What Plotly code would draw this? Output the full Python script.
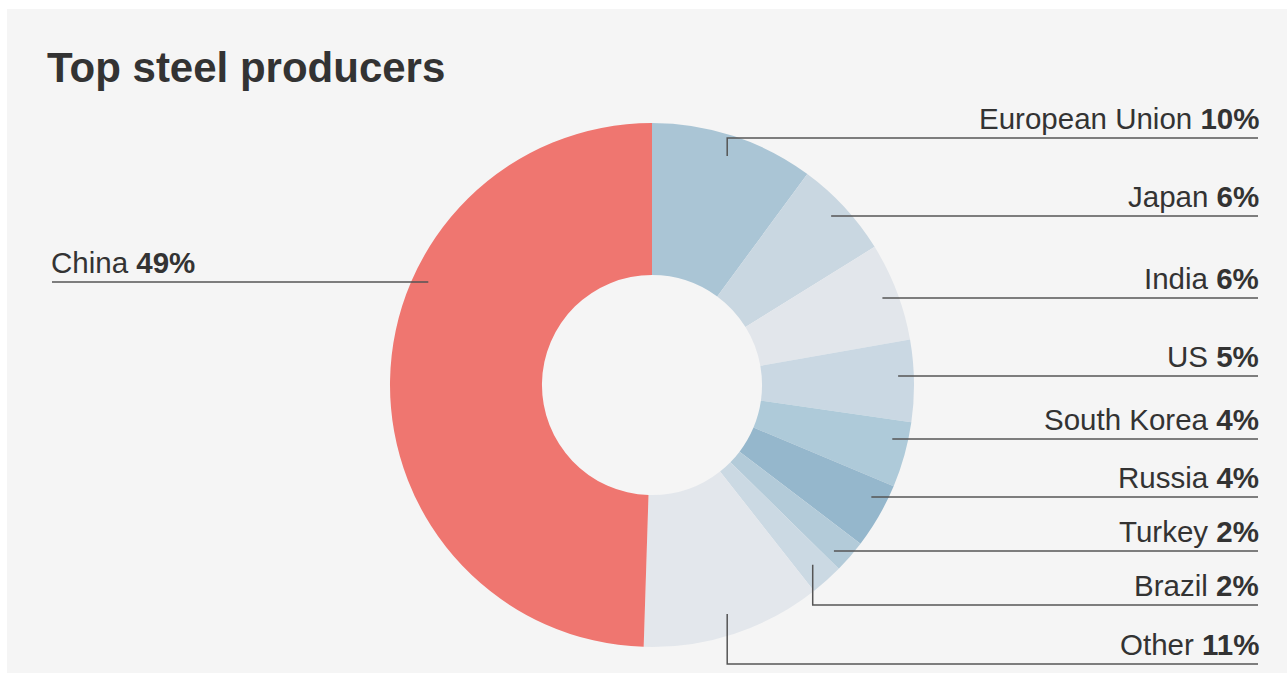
import math
import plotly.graph_objects as go

# ---- data ----
countries = ["European Union", "Japan", "India", "US", "South Korea",
             "Russia", "Turkey", "Brazil", "Other", "China"]
shares = [10, 6, 6, 5, 4, 4, 2, 2, 11, 49]
title_text = "Top steel producers"

# ---- styles / layout ----
colors = ["#aac5d5", "#c9d7e1", "#e2e6eb", "#cad8e3", "#aecad9",
          "#95b7cc", "#b3cbd9", "#cbd9e3", "#e3e7ec", "#ef7670"]
label_line_y = [138, 216, 298, 376, 439, 497, 551, 605, 664, 282]  # px from top
W, H = 1287, 673
CX, CY, R = 652, 385, 262
HOLE = 0.42
RIGHT_X = 1258
LEFT_X = 52
FONT = "Liberation Sans, Arial, sans-serif"
LINE_COLOR = "#555555"


def px(x):
    return x / W


def py(y):
    return 1 - y / H


fig = go.Figure()
fig.add_trace(go.Pie(
    labels=countries, values=shares, sort=False, direction="clockwise",
    rotation=0, hole=HOLE, textinfo="none", hoverinfo="label+percent",
    marker=dict(colors=colors, line=dict(width=0)),
    domain=dict(x=[px(CX - R), px(CX + R)], y=[py(CY + R), py(CY - R)]),
    showlegend=False,
))

shapes = [dict(type="rect", xref="paper", yref="paper",
               x0=px(7), x1=1, y0=0, y1=py(9),
               fillcolor="#f5f5f5", line=dict(width=0), layer="below")]
annotations = [dict(text="<b>" + title_text + "</b>", xref="paper", yref="paper",
                    x=px(45), y=py(68), xanchor="left", yanchor="middle",
                    showarrow=False, font=dict(family=FONT, size=42, color="#333333"))]

total = sum(shares)
cum = 0.0
r_h = 0.94 * R
r_v = 0.92 * R
for name, v, ly in zip(countries, shares, label_line_y):
    a0 = cum / total * 360
    a1 = (cum + v) / total * 360
    amid = (a0 + a1) / 2
    cum += v
    is_left = amid > 180
    dy = ly - CY
    pts = None
    if abs(dy) < r_h - 8:
        dx = math.sqrt(r_h ** 2 - dy ** 2) * (-1 if is_left else 1)
        ang = math.degrees(math.atan2(dx, -dy)) % 360
        if a0 + 2 <= ang <= a1 - 2:
            pts = [(CX + dx, ly)]
    if pts is None:
        t = math.radians(amid)
        ax = CX + r_v * math.sin(t)
        ay = CY - r_v * math.cos(t)
        pts = [(ax, ay), (ax, ly)]
    end_x = LEFT_X if is_left else RIGHT_X
    pts.append((end_x, ly))
    path = "M " + " L ".join(f"{px(x):.5f},{py(y):.5f}" for x, y in pts)
    shapes.append(dict(type="path", xref="paper", yref="paper", path=path,
                       line=dict(color=LINE_COLOR, width=1.5), layer="above"))
    annotations.append(dict(
        text=f"{name} <b>{v}%</b>", xref="paper", yref="paper",
        x=px(end_x - 3 if is_left else end_x + 3), y=py(ly - 1),
        xanchor="left" if is_left else "right",
        yanchor="bottom", showarrow=False,
        font=dict(family=FONT, size=29.5, color="#333333")))

fig.update_layout(
    width=W, height=H, margin=dict(l=0, r=0, t=0, b=0),
    paper_bgcolor="#ffffff", plot_bgcolor="#ffffff",
    shapes=shapes, annotations=annotations,
)
fig.write_html("out.html")
